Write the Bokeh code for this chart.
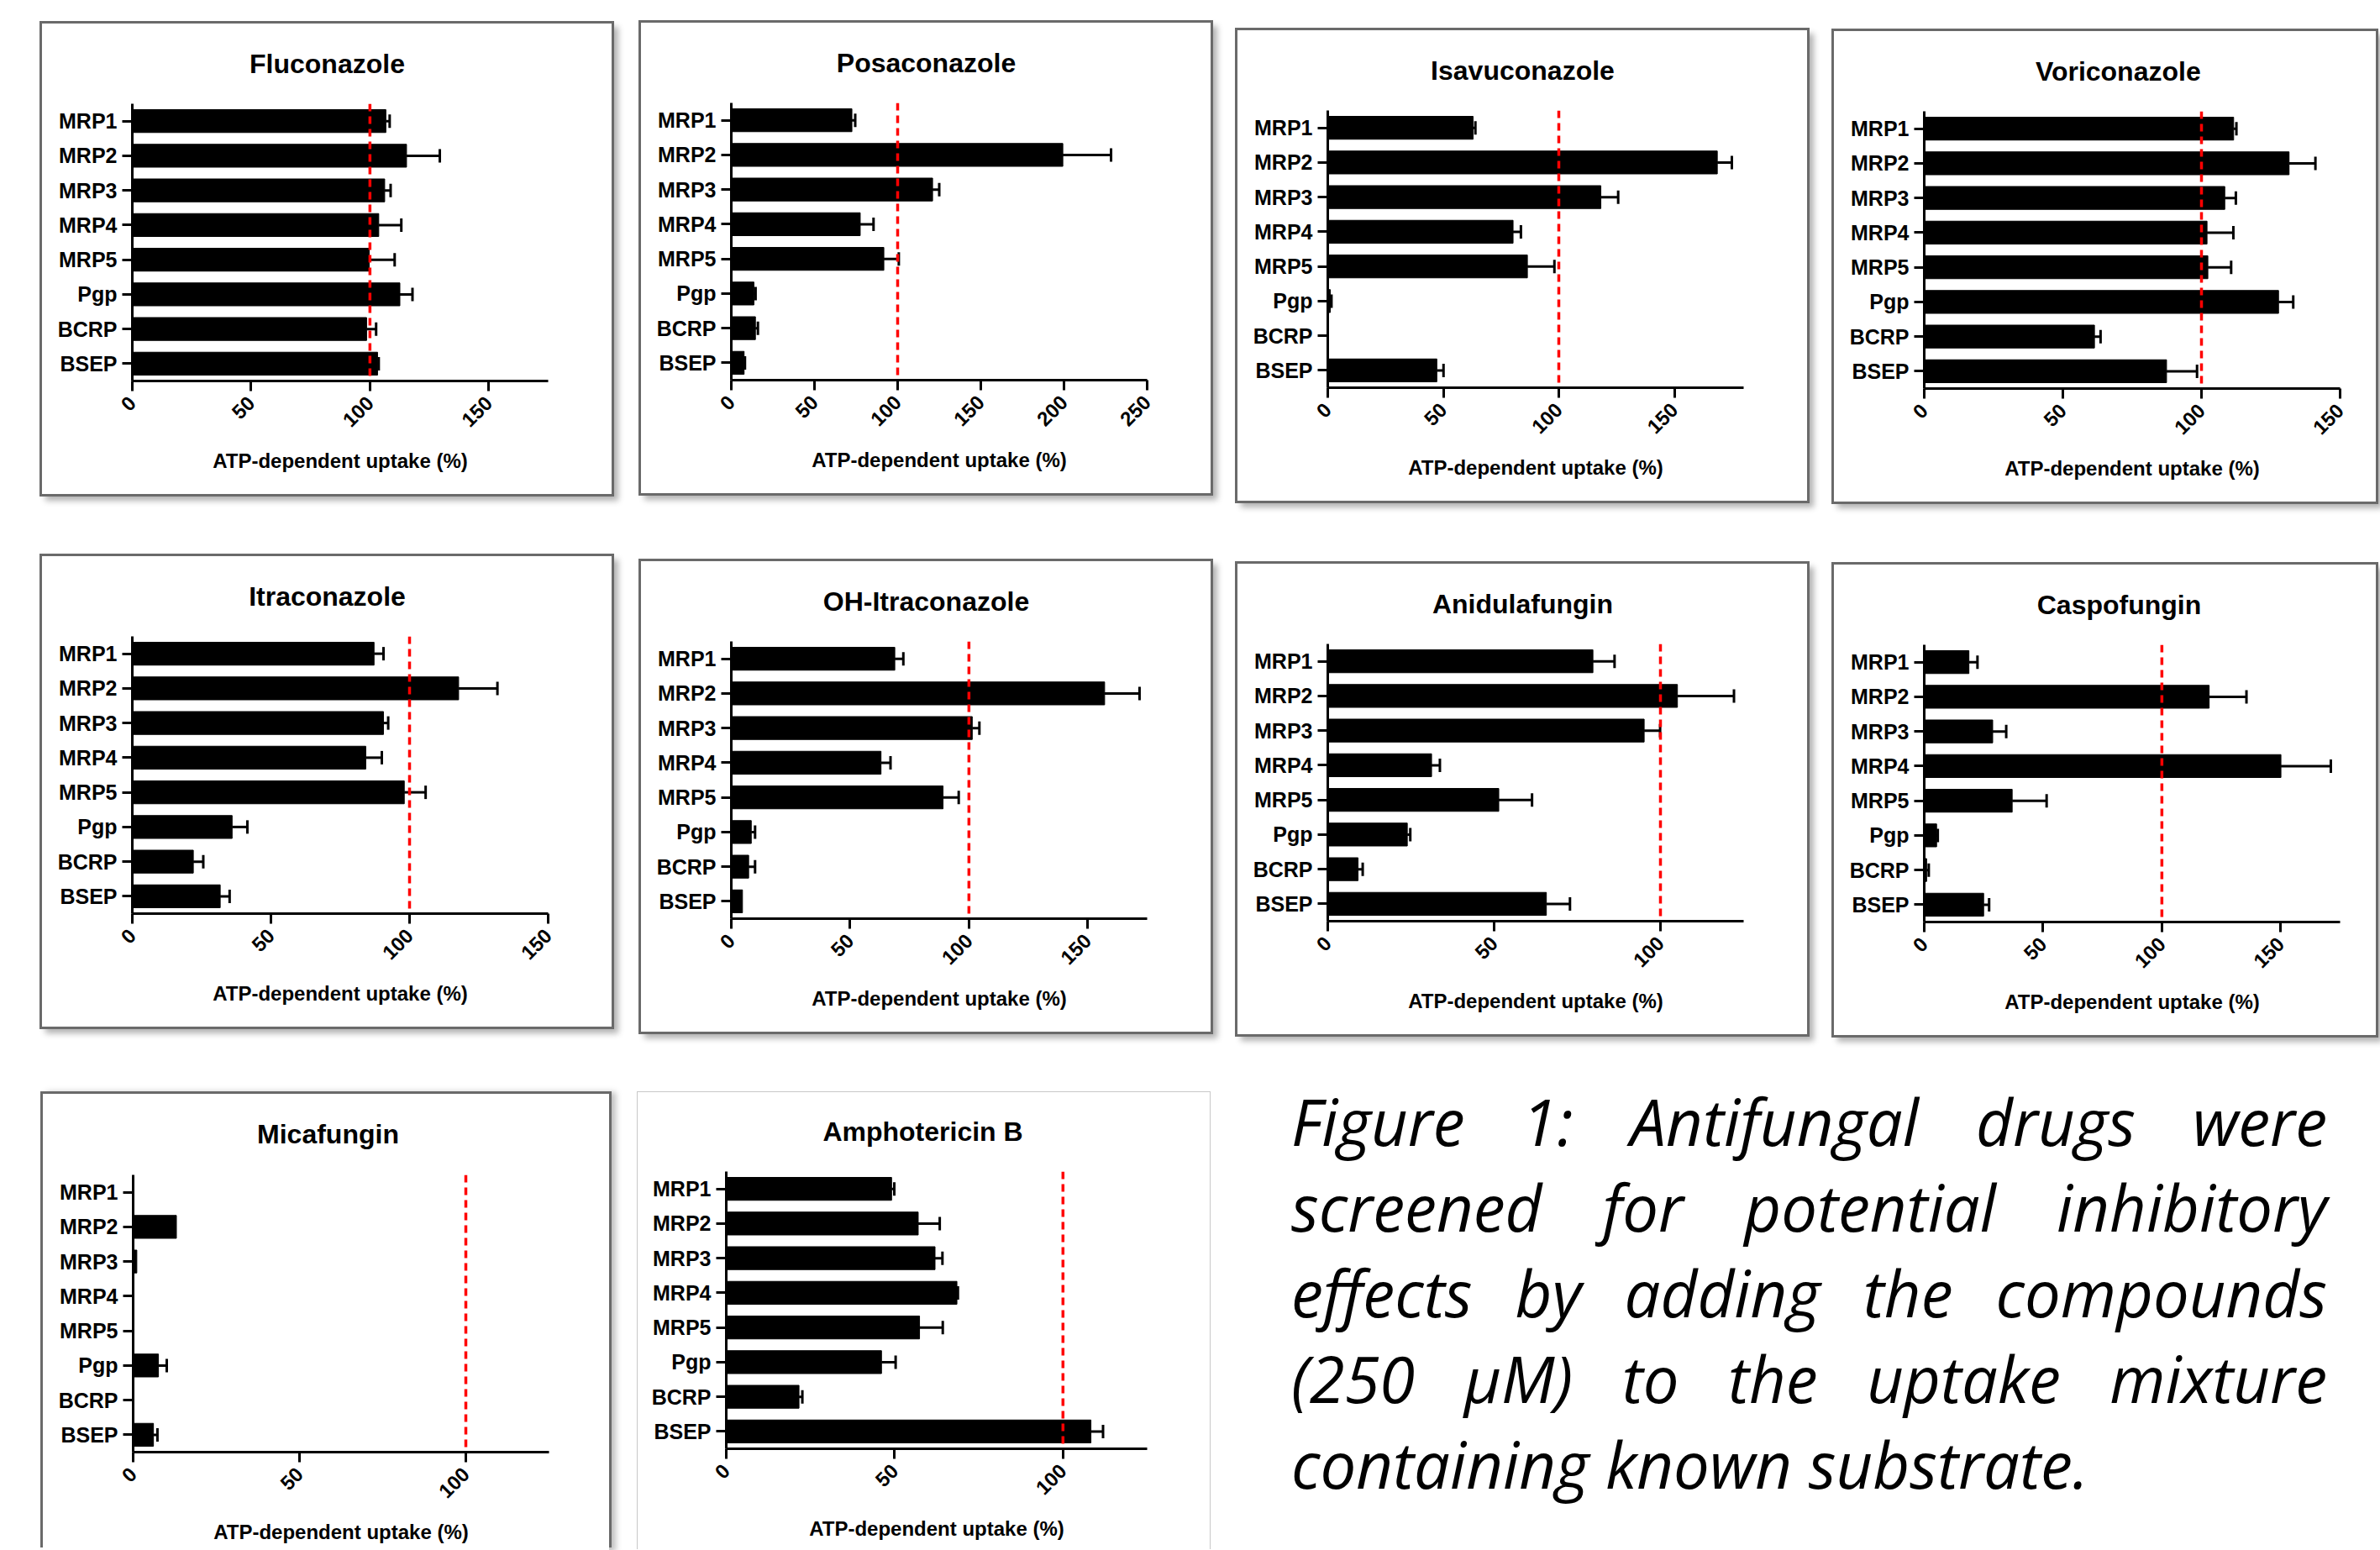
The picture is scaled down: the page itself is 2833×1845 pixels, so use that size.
import math
from bokeh.plotting import figure
from bokeh.models import (ColumnDataSource, Whisker, TeeHead, Span, FactorRange,
                          Range1d, FixedTicker, Spacer, Div)
from bokeh.layouts import row, column
from bokeh.embed import file_html
from bokeh.resources import INLINE

# ---------------- data ----------------
transporters = ["MRP1", "MRP2", "MRP3", "MRP4", "MRP5", "Pgp", "BCRP", "BSEP"]

fluconazole_mean = [106.7, 115.4, 106.2, 103.7, 99.7, 112.6, 98.6, 103.2]
fluconazole_err = [1.6, 14.0, 2.5, 9.5, 10.7, 5.3, 4.0, 0.5]

posaconazole_mean = [72.5, 199.3, 121.0, 77.5, 91.7, 13.6, 14.5, 7.7]
posaconazole_err = [2.0, 29.0, 4.0, 8.0, 9.0, 1.0, 1.5, 0.5]

isavuconazole_mean = [62.9, 168.6, 118.2, 80.2, 86.4, 1.1, 0.0, 47.2]
isavuconazole_err = [1.0, 6.3, 7.5, 3.4, 11.7, 0.5, 0.0, 2.9]

voriconazole_mean = [111.6, 131.6, 108.4, 102.0, 102.3, 127.8, 61.4, 87.4]
voriconazole_err = [1.0, 9.5, 4.0, 9.5, 8.4, 5.3, 2.2, 11.0]

itraconazole_mean = [87.2, 117.7, 90.6, 84.2, 98.1, 36.0, 22.0, 31.7]
itraconazole_err = [3.4, 14.0, 1.7, 5.8, 7.7, 5.5, 3.6, 3.4]

oh_itraconazole_mean = [68.8, 157.1, 101.4, 63.0, 89.1, 8.4, 7.3, 4.7]
oh_itraconazole_err = [3.6, 14.7, 3.0, 4.0, 6.6, 1.6, 2.7, 0.0]

anidulafungin_mean = [79.7, 105.1, 95.1, 31.2, 51.4, 23.9, 9.1, 65.7]
anidulafungin_err = [6.5, 17.0, 4.8, 2.5, 10.0, 0.9, 1.4, 7.1]

caspofungin_mean = [18.8, 119.9, 28.8, 150.1, 37.0, 5.2, 1.0, 25.0]
caspofungin_err = [3.6, 15.7, 5.7, 21.0, 14.5, 0.5, 0.9, 2.3]

micafungin_mean = [0.0, 13.0, 1.1, 0.0, 0.0, 7.6, 0.0, 6.1]
micafungin_err = [0.0, 0.0, 0.0, 0.0, 0.0, 2.5, 0.0, 1.2]

amphotericin_mean = [49.1, 57.0, 62.0, 68.5, 57.4, 46.1, 21.6, 108.3]
amphotericin_err = [0.8, 6.4, 2.2, 0.3, 6.9, 4.2, 1.0, 3.6]

reference_level = 100
x_label = "ATP-dependent uptake (%)"

caption_lines = [
    "Figure 1: Antifungal drugs were",
    "screened for potential inhibitory",
    "effects by adding the compounds",
    "(250 \u03bcM) to the uptake mixture",
    "containing known substrate.",
]

FONT = "Liberation Sans"
BOX_FULL = "0 0 0 3px #6a6a6a, 6px 6px 7px 2px rgba(0,0,0,0.30)"
BOX_OPEN = "-3px -3px 0 0 #6a6a6a, 3px -3px 0 0 #6a6a6a, 6px 0px 7px 2px rgba(0,0,0,0.25)"
BOX_LIGHT = "-1px -1px 0 0 #c8c8c8, 1px -1px 0 0 #c8c8c8"

# Arial/Liberation Sans Bold advance widths (per 1000 em) used to centre titles on the panel box
_AW = {c: w for c, w in zip("ABCDEFGHIJKLMNOPQRSTUVWXYZ",
                            [722, 722, 722, 722, 667, 611, 778, 722, 278, 556, 722, 611, 833,
                             722, 778, 667, 778, 722, 667, 611, 722, 667, 944, 667, 667, 611])}
_AW.update({c: w for c, w in zip("abcdefghijklmnopqrstuvwxyz",
                                 [556, 611, 556, 611, 556, 333, 611, 611, 278, 278, 556, 278, 889,
                                  611, 611, 611, 611, 389, 556, 333, 611, 556, 778, 556, 556, 500])})
_AW.update({"-": 333, " ": 278})


def text_width(s, size):
    return sum(_AW.get(c, 600) for c in s) / 1000.0 * size


TITLE_SIZE = 32


def panel(name, means, errs, x_end, ticks, width, height, shadow,
          frame_top=95, frame_h=330, frame_left=107, frame_w=495):
    src = ColumnDataSource(dict(cat=transporters, mean=means))
    wc = [c for c, e in zip(transporters, errs) if e > 0]
    wl = [m for m, e in zip(means, errs) if e > 0]
    wu = [m + e for m, e in zip(means, errs) if e > 0]
    wsrc = ColumnDataSource(dict(cat=wc, lower=wl, upper=wu))

    p = figure(width=width, height=height,
               y_range=FactorRange(factors=list(reversed(transporters))),
               x_range=Range1d(0, x_end),
               output_backend="svg", toolbar_location=None,
               min_border_left=frame_left,
               min_border_right=width - frame_left - frame_w,
               min_border_top=frame_top,
               min_border_bottom=height - frame_top - frame_h,
               title=name)
    p.styles = {"box-shadow": shadow}
    p.background_fill_color = "white"
    p.border_fill_color = "white"
    p.outline_line_color = None
    p.grid.visible = False

    p.title.text_font = FONT
    p.title.text_font_style = "bold"
    p.title.text_font_size = f"{TITLE_SIZE}px"
    p.title.align = "left"
    p.title.vertical_align = "top"
    p.title.offset = 339 - text_width(name, TITLE_SIZE) / 2 - frame_left
    p.title.standoff = frame_top - 39
    p.title.text_color = "black"

    p.hbar(y="cat", left=0, right="mean", height=0.66, source=src,
           fill_color="black", line_color="black")

    wh = Whisker(base="cat", lower="lower", upper="upper", dimension="width",
                 source=wsrc, line_width=3, line_color="black",
                 upper_head=TeeHead(size=16, line_width=3, line_color="black"),
                 lower_head=None)
    p.add_layout(wh)

    p.add_layout(Span(location=reference_level, dimension="height",
                      line_color="red", line_dash="9 6", line_width=3.5,
                      level="overlay"))

    for ax in (p.xaxis, p.yaxis):
        ax.axis_line_width = 3
        ax.axis_line_color = "black"
        ax.major_tick_line_width = 3
        ax.major_tick_line_color = "black"
        ax.major_tick_out = 12
        ax.major_tick_in = 0
        ax.minor_tick_line_color = None
        ax.major_label_text_font = FONT
        ax.major_label_text_font_style = "bold"
        ax.major_label_text_color = "black"

    p.yaxis.major_label_text_font_size = "25px"
    p.yaxis.major_label_standoff = 6

    p.xaxis.ticker = FixedTicker(ticks=ticks)
    p.xaxis.major_label_orientation = math.pi / 4
    p.xaxis.major_label_text_font_size = "24px"
    p.xaxis.major_label_standoff = 10
    p.xaxis.axis_label = x_label
    p.xaxis.axis_label_text_font = FONT
    p.xaxis.axis_label_text_font_style = "bold"
    p.xaxis.axis_label_text_font_size = "24px"
    p.xaxis.axis_label_text_color = "black"
    p.xaxis.axis_label_standoff = 16
    return p


def cell(dy, item):
    return column(Spacer(width=1, height=dy), item)


W = 678
H = 560
W_LAST = 645

flu = panel("Fluconazole", fluconazole_mean, fluconazole_err, 175, [0, 50, 100, 150], W, H, BOX_FULL)
pos = panel("Posaconazole", posaconazole_mean, posaconazole_err, 250, [0, 50, 100, 150, 200, 250], W, H, BOX_FULL)
isa = panel("Isavuconazole", isavuconazole_mean, isavuconazole_err, 180, [0, 50, 100, 150], W, H, BOX_FULL)
vor = panel("Voriconazole", voriconazole_mean, voriconazole_err, 150, [0, 50, 100, 150], W_LAST, H, BOX_FULL)

itr = panel("Itraconazole", itraconazole_mean, itraconazole_err, 150, [0, 50, 100, 150], W, H, BOX_FULL)
ohi = panel("OH-Itraconazole", oh_itraconazole_mean, oh_itraconazole_err, 175, [0, 50, 100, 150], W, H, BOX_FULL)
ani = panel("Anidulafungin", anidulafungin_mean, anidulafungin_err, 125, [0, 50, 100], W, H, BOX_FULL)
cas = panel("Caspofungin", caspofungin_mean, caspofungin_err, 175, [0, 50, 100, 150], W_LAST, H, BOX_FULL)

mic = panel("Micafungin", micafungin_mean, micafungin_err, 125, [0, 50, 100], 674, 543, BOX_OPEN, frame_top=96)
amp = panel("Amphotericin B", amphotericin_mean, amphotericin_err, 125, [0, 50, 100], 681, 545, BOX_LIGHT,
            frame_top=94, frame_left=105, frame_w=501)

html_lines = []
for i, ln in enumerate(caption_lines):
    last = i == len(caption_lines) - 1
    align = "left" if last else "justify"
    html_lines.append(
        f'<div style="width:1233px;text-align:{align};text-align-last:{align};">{ln}</div>')
caption = Div(text='<div style="width:1233px">' + "".join(html_lines) + "</div>",
              width=1233, height=540,
              styles={"font-family": "Open Sans", "font-style": "italic",
                      "font-size": "76px", "line-height": "102px", "color": "black",
                      "width": "1233px"})

row1 = row(Spacer(width=50, height=1), cell(28, flu), Spacer(width=35, height=1), cell(27, pos),
           Spacer(width=32, height=1), cell(36, isa), Spacer(width=32, height=1), cell(37, vor))
row2 = row(Spacer(width=50, height=1), cell(65, itr), Spacer(width=35, height=1), cell(71, ohi),
           Spacer(width=32, height=1), cell(74, ani), Spacer(width=32, height=1), cell(75, cas))
row3 = row(Spacer(width=51, height=1), cell(70, mic), Spacer(width=34, height=1), cell(68, amp),
           Spacer(width=92, height=1), cell(47, caption))

page = column(row1, row2, row3)

open("out.html", "w").write(file_html(page, INLINE))
